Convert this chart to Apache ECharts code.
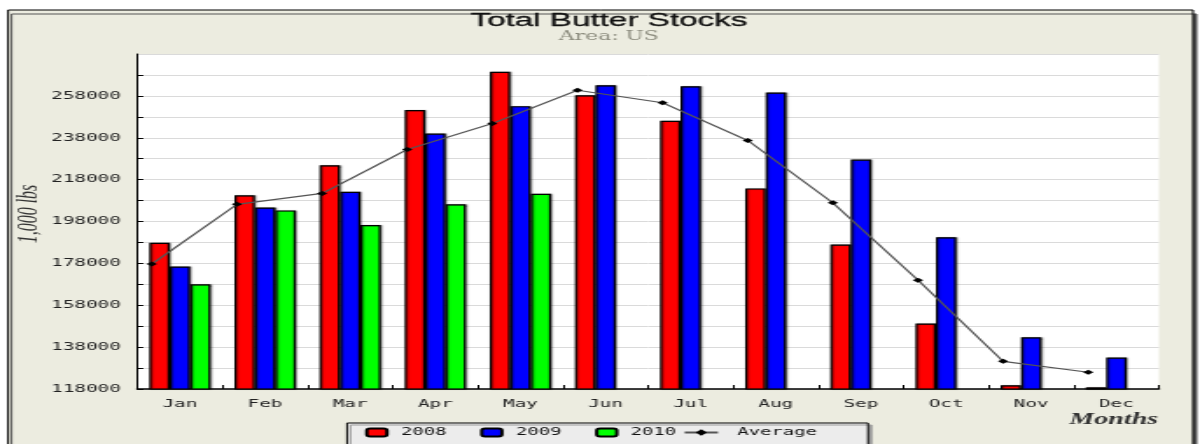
<!DOCTYPE html>
<html>
<head>
<meta charset="utf-8">
<script src="https://cdn.jsdelivr.net/npm/echarts@6/dist/echarts.min.js"></script>
<style>
  html, body { margin: 0; padding: 0; background: #ffffff; overflow: hidden; }
  #c { width: 686px; height: 444px; transform: scaleX(1.74927); transform-origin: 0 0; }
</style>
</head>
<body>
<div id="c"></div>
<script>
// ---- data ----
const months = ['Jan', 'Feb', 'Mar', 'Apr', 'May', 'Jun', 'Jul', 'Aug', 'Sep', 'Oct', 'Nov', 'Dec'];
const stocks2008 = [187800, 210500, 224900, 251200, 269500, 258300, 246100, 213800, 187000, 149300, 119800, 118800];
const stocks2009 = [176500, 204700, 212200, 240000, 253100, 263100, 262600, 259600, 227600, 190500, 142700, 133000];
const stocks2010 = [168000, 203300, 196300, 206200, 211200, null, null, null, null, null, null, null];
const average    = [177700, 206200, 211400, 232400, 244800, 260700, 254700, 236700, 206900, 170000, 131200, 126000];
const yMin = 118000, yMax = 278000, yStep = 10000, yLabelStep = 20000;

// ---- chart ----
const MONO = '"DejaVu Sans Mono", "Liberation Mono", monospace';
const SERIF = '"Liberation Serif", "DejaVu Serif", serif';
const LINE_SHIFT = -0.33; // average markers sit at the left edge of each bar group

const chart = echarts.init(document.getElementById('c'), null, { renderer: 'canvas' });

const barStyle = (color) => ({
  color: color,
  borderColor: '#000',
  borderWidth: 1.2,
  shadowColor: 'rgba(0,0,0,0.35)',
  shadowOffsetX: 1,
  shadowOffsetY: 0,
  shadowBlur: 1
});

chart.setOption({
  animation: false,
  backgroundColor: 'transparent',
  graphic: [
    { type: 'rect', z: -10, shape: { x: 4.6, y: 10, width: 677.4, height: 500 },
      style: { fill: '#ECECE0', stroke: '#000', lineWidth: 1,
               shadowColor: '#555', shadowOffsetX: 2, shadowOffsetY: 4, shadowBlur: 0 } },
    { type: 'text', z: 10, x: 348.1, y: 20.5,
      style: { text: 'Total Butter Stocks', fill: '#111', align: 'center', verticalAlign: 'middle',
               font: 'normal 19px "Liberation Sans", Arial, sans-serif',
               stroke: '#111', lineWidth: 0.3 } },
    { type: 'text', z: 10, x: 348.1, y: 36.8,
      style: { text: 'Area: US', fill: '#8c8c7e', align: 'center', verticalAlign: 'middle',
               font: 'normal 12.5px "DejaVu Serif", serif' } },
    { type: 'text', z: 10, x: 16.3, y: 214, rotation: Math.PI / 2,
      style: { text: '1,000 lbs', fill: '#333', align: 'center', verticalAlign: 'middle',
               font: 'italic 16px ' + SERIF } },
    { type: 'text', z: 10, x: 662, y: 419.5,
      style: { text: 'Months', fill: '#333', align: 'right', verticalAlign: 'middle',
               font: 'italic bold 16px ' + SERIF } },
    { type: 'rect', z: 1, shape: { x: 198.4, y: 423, width: 297.8, height: 40 },
      style: { fill: '#ECECEC', stroke: '#000', lineWidth: 1,
               shadowColor: '#9a9a9a', shadowOffsetX: 2, shadowOffsetY: 2, shadowBlur: 0 } }
  ],
  legend: [
    {
      data: ['2008', '2009', '2010'],
      left: 208.7, top: 427, padding: 0, orient: 'horizontal',
      itemWidth: 11.5, itemHeight: 8, itemGap: 19.2,
      textStyle: { fontFamily: MONO, fontSize: 10.8, color: '#111', padding: [0, 0, 0, 3] },
      z: 5
    },
    {
      data: ['Average'],
      left: 390.4, top: 427, padding: 0,
      itemWidth: 19, itemHeight: 8,
      textStyle: { fontFamily: MONO, fontSize: 10.8, color: '#111', padding: [0, 0, 0, 6] },
      z: 5
    }
  ],
  grid: {
    left: 78.5, right: 23.5, top: 54, bottom: 55,
    show: true, backgroundColor: '#ffffff', borderWidth: 0, containLabel: false
  },
  xAxis: [
    {
      type: 'category', data: months, boundaryGap: true,
      axisLine: { show: true, onZero: false, lineStyle: { color: '#000', width: 1.5 } },
      axisTick: { show: true, inside: true, length: 4, lineStyle: { color: '#000', width: 1 } },
      axisLabel: { fontFamily: MONO, fontSize: 11, color: '#222', margin: 10 },
      splitLine: { show: false }
    },
    {
      type: 'value', min: -0.5, max: 11.5, show: false, splitLine: { show: false },
      axisLine: { onZero: false }
    }
  ],
  yAxis: {
    type: 'value', min: yMin, max: yMax, interval: yStep,
    axisLine: { show: true, onZero: false, lineStyle: { color: '#000', width: 1 } },
    axisTick: { show: true, inside: true, length: 3.4, lineStyle: { color: '#000', width: 1 } },
    axisLabel: {
      fontFamily: MONO, fontSize: 11, color: '#222', margin: 9.5, showMaxLabel: false,
      formatter: (v) => ((v - yMin) % yLabelStep === 0 ? String(v) : '')
    },
    splitLine: { show: true, lineStyle: { color: '#dadada', width: 1 } }
  },
  series: [
    { name: '2008', type: 'bar', data: stocks2008, barGap: '0%', barCategoryGap: '28%', itemStyle: barStyle('#ff0000') },
    { name: '2009', type: 'bar', data: stocks2009, barGap: '0%', barCategoryGap: '28%', itemStyle: barStyle('#0000ff') },
    { name: '2010', type: 'bar', data: stocks2010, barGap: '0%', barCategoryGap: '28%', itemStyle: barStyle('#00ff00') },
    {
      name: 'Average', type: 'line', xAxisIndex: 1, z: 5,
      data: average.map((v, i) => [i + LINE_SHIFT, v]),
      symbol: 'diamond', symbolSize: [6, 5], showSymbol: true,
      itemStyle: { color: '#000' },
      lineStyle: { color: '#555', width: 1.2 }
    }
  ]
});
</script>
</body>
</html>
